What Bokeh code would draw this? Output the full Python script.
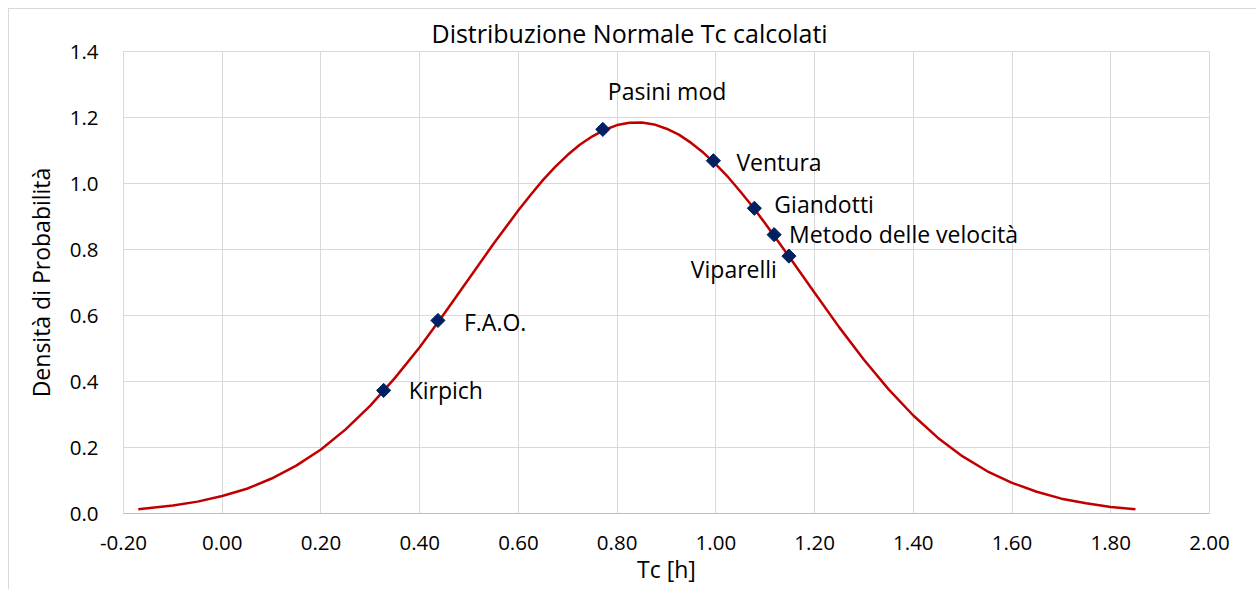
import numpy as np
from bokeh.plotting import figure
from bokeh.models import Range1d, FixedTicker, NumeralTickFormatter, ColumnDataSource, LabelSet
from bokeh.core.properties import value
from bokeh.embed import file_html
from bokeh.resources import INLINE

# ---- data ----
curve_x = [-0.17, -0.10, -0.05, 0.00, 0.05, 0.10, 0.15, 0.20, 0.25, 0.30, 0.35, 0.40,
           0.45, 0.50, 0.55, 0.60, 0.625, 0.65, 0.675, 0.70, 0.725, 0.75, 0.775, 0.80,
           0.825, 0.85, 0.875, 0.90, 0.925, 0.95, 0.975, 1.00, 1.025, 1.05, 1.075, 1.10,
           1.15, 1.20, 1.25, 1.30, 1.35, 1.40, 1.45, 1.50, 1.55, 1.60,
           1.65, 1.70, 1.75, 1.80, 1.85]
curve_y = [0.013, 0.024, 0.036, 0.053, 0.075, 0.106, 0.145, 0.194, 0.255, 0.327, 0.411, 0.504,
           0.606, 0.712, 0.818, 0.919, 0.966, 1.011, 1.051, 1.087, 1.118, 1.143, 1.163, 1.177,
           1.184, 1.185, 1.179, 1.166, 1.148, 1.123, 1.093, 1.058, 1.019, 0.975, 0.929, 0.879,
           0.775, 0.669, 0.564, 0.466, 0.376, 0.297, 0.229, 0.173, 0.128, 0.093,
           0.066, 0.045, 0.031, 0.020, 0.013]

methods = ["Kirpich", "F.A.O.", "Pasini mod", "Ventura", "Giandotti", "Metodo delle velocità", "Viparelli"]
method_tc = [0.327, 0.437, 0.771, 0.995, 1.078, 1.118, 1.148]
method_density = [0.373, 0.585, 1.164, 1.069, 0.925, 0.845, 0.780]

x_ticks = [-0.2, 0.0, 0.2, 0.4, 0.6, 0.8, 1.0, 1.2, 1.4, 1.6, 1.8, 2.0]
y_ticks = [0.0, 0.2, 0.4, 0.6, 0.8, 1.0, 1.2, 1.4]

title_text = "Distribuzione Normale Tc calcolati"
x_label = "Tc [h]"
y_label = "Densità di Probabilità"

# ---- label placement (pixels) ----
label_dx = [25, 26, 5, 23, 20, 15, -12]
label_dy = [0, -2, 22, -1, 4, 1, -13]
label_align = ["left", "left", "left", "left", "left", "left", "right"]
label_base = ["middle", "middle", "bottom", "middle", "middle", "middle", "middle"]

FONT = "Open Sans"
GRID = "#d9d9d9"

p = figure(width=1248, height=581, output_backend="svg", toolbar_location=None,
           x_range=Range1d(-0.2, 2.0), y_range=Range1d(0, 1.4),
           min_border_left=114, min_border_right=48, min_border_top=42, min_border_bottom=77)
p.styles = {"margin-left": "8px", "margin-top": "8px",
            "border-left": "1px solid #d9d9d9", "border-top": "1px solid #d9d9d9"}

p.title.text = title_text
p.title.align = "left"
p.title.offset = 308
p.title.text_font = FONT
p.title.text_font_size = "25px"
p.title.text_font_style = "normal"
p.title.text_color = "#000000"
p.title.standoff = 4

p.outline_line_color = GRID
p.xgrid.grid_line_color = GRID
p.ygrid.grid_line_color = GRID
p.xgrid.ticker = FixedTicker(ticks=x_ticks)
p.ygrid.ticker = FixedTicker(ticks=y_ticks)

p.xaxis.ticker = FixedTicker(ticks=x_ticks)
p.yaxis.ticker = FixedTicker(ticks=y_ticks)
p.xaxis.formatter = NumeralTickFormatter(format="0.00")
p.yaxis.formatter = NumeralTickFormatter(format="0.0")
for ax in (p.xaxis, p.yaxis):
    ax.axis_line_color = "#bfbfbf"
    ax.major_tick_line_color = None
    ax.minor_tick_line_color = None
    ax.major_label_text_font = FONT
    ax.major_label_text_font_size = "20.5px"
    ax.major_label_text_color = "#000000"
    ax.axis_label_text_font = FONT
    ax.axis_label_text_font_size = "23px"
    ax.axis_label_text_font_style = "normal"
    ax.axis_label_text_color = "#000000"
p.yaxis.axis_line_color = GRID
p.xaxis.axis_label = x_label
p.yaxis.axis_label = y_label
p.xaxis.major_label_standoff = 16
p.yaxis.major_label_standoff = 19
p.xaxis.axis_label_standoff = 0
p.yaxis.axis_label_standoff = 10

p.line(curve_x, curve_y, line_color="#c00000", line_width=2.5)

src = ColumnDataSource(data=dict(x=method_tc, y=method_density, name=methods,
                                 dx=label_dx, dy=label_dy, al=label_align, bl=label_base))
p.scatter("x", "y", source=src, marker="square", size=10, angle=np.pi / 4,
          fill_color="#002060", line_color="#002060")
labels = LabelSet(x="x", y="y", text="name", source=src, x_offset="dx", y_offset="dy",
                  text_align="al", text_baseline="bl", text_font=value(FONT),
                  text_font_size="23px", text_color="#000000")
p.add_layout(labels)

open("out.html", "w").write(file_html(p, INLINE))
